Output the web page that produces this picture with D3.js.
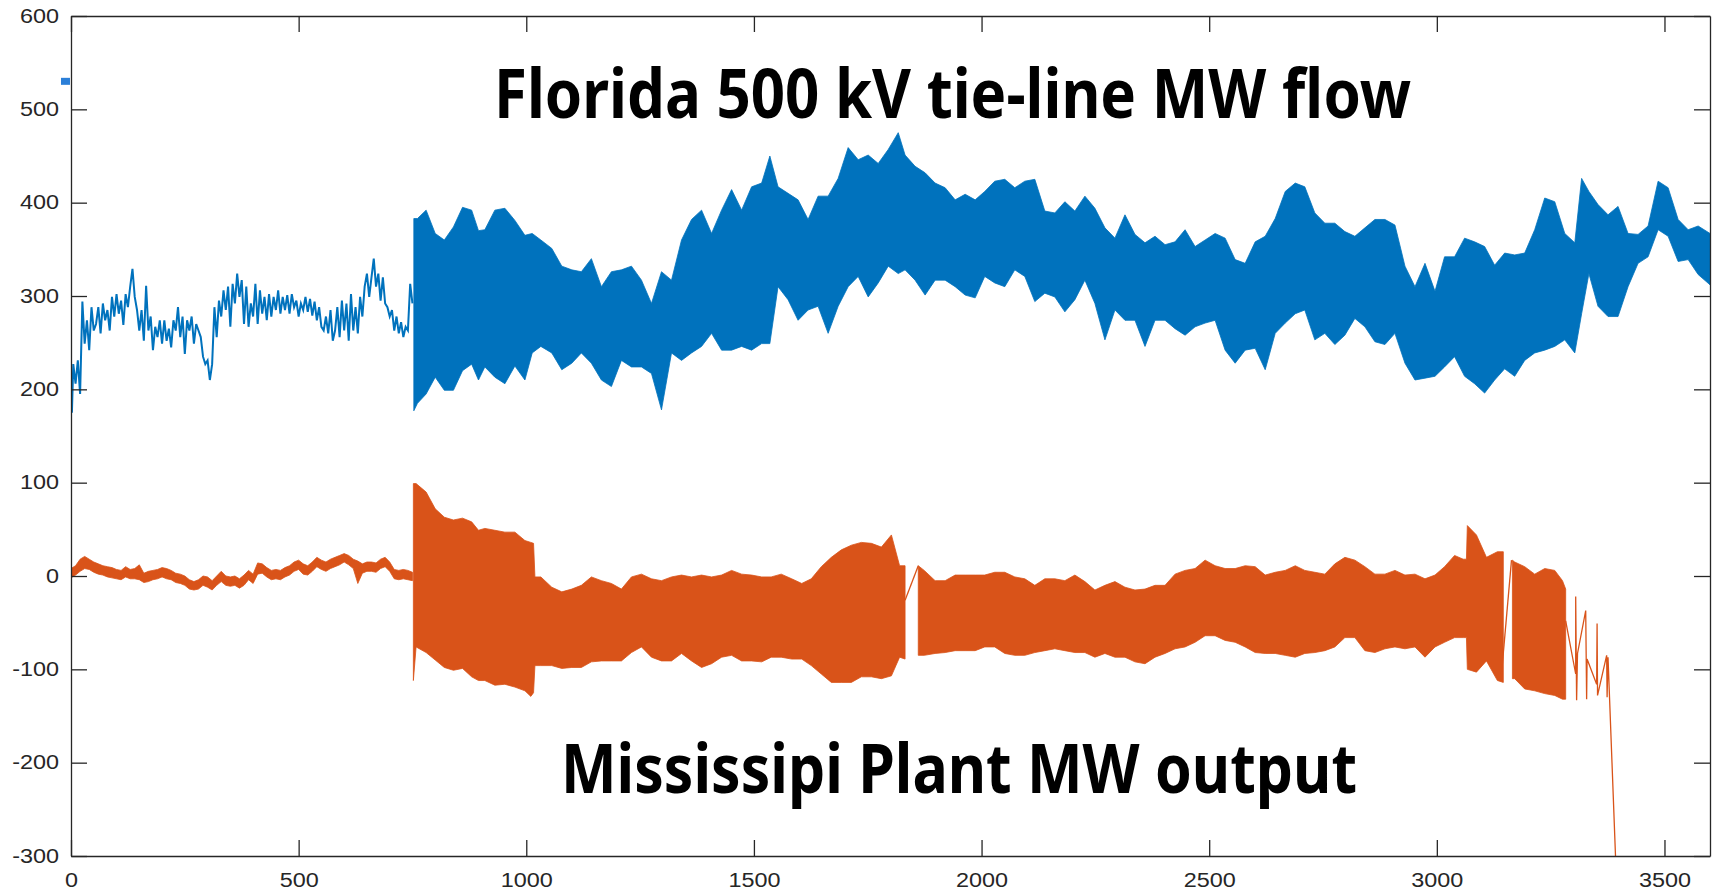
<!DOCTYPE html>
<html lang="en">
<head>
<meta charset="UTF-8">
<title>Florida 500 kV tie-line MW flow / Mississipi Plant MW output</title>
<script src="https://d3js.org/d3.v7.min.js"></script>
<style>
  body { margin: 0; background: #fff; }
  svg { display: block; }
  .axis path, .axis line { stroke: #262626; stroke-width: 1.3; }
  .axis text { font-family: "Liberation Sans", Arial, sans-serif; font-size: 19.5px; fill: #262626; }
  .label { font-family: "Noto Sans", sans-serif; font-weight: 700; font-size: 68px; fill: #000; }
</style>
</head>
<body>
<div id="chart"></div>
<script>
// axis ticks
const xTicks = [0, 500, 1000, 1500, 2000, 2500, 3000, 3500];
const yTicks = [-300, -200, -100, 0, 100, 200, 300, 400, 500, 600];

// Florida tie-line, quiet part before the oscillation starts: [time, MW]
const blueQuiet = [
  [0,215],[2,175],[5,227],[10,206],[15,231],[20,195],[25,294],[30,249],[35,274],[40,242],[45,288],[50,263],
  [55,270],[60,288],[65,260],[70,292],[75,274],[80,285],[85,263],[90,299],[95,278],[100,302],[105,281],
  [110,295],[115,269],[120,302],[125,288],[130,310],[135,329],[140,299],[145,285],[150,263],[155,285],
  [160,252],[165,311],[170,263],[175,278],[180,242],[185,267],[190,256],[195,274],[200,249],[205,274],
  [210,252],[215,265],[220,245],[225,274],[230,263],[235,288],[240,256],[245,278],[250,238],[255,274],
  [260,263],[265,278],[270,249],[275,270],[280,263],[285,256],[290,235],[295,227],[300,231],[305,210],
  [310,227],[315,288],[320,256],[325,295],[330,278],[335,306],[340,285],[345,310],[350,267],[355,313],
  [360,292],[365,324],[370,299],[375,317],[380,270],[385,310],[390,267],[395,292],[400,278],[405,313],
  [410,270],[415,306],[420,281],[425,299],[430,274],[435,302],[440,278],[445,299],[450,285],[455,306],
  [460,281],[465,299],[470,285],[475,301],[480,281],[485,302],[490,288],[495,295],[500,278],[505,292],
  [510,285],[515,299],[520,283],[525,297],[530,279],[535,294],[540,274],[545,288],[550,267],[555,263],
  [560,278],[565,260],[570,285],[575,252],[580,263],[585,288],[590,256],[595,295],[600,263],[605,292],
  [610,252],[615,302],[620,263],[625,288],[630,260],[635,299],[640,278],[645,310],[650,324],[655,299],
  [660,320],[665,340],[670,310],[675,324],[680,295],[685,320],[690,292],[695,288],[700,278],[705,285],
  [710,263],[715,278],[720,260],[725,272],[730,256],[735,267],[740,263],[745,313],[750,292]
];

// Florida tie-line, oscillating part: [time, min MW, max MW] per window
const blueBand = [
  [753,177,383],[761,185,383],[780,195,392],[800,213,367],[820,199,360],[840,199,374],[860,220,395],
  [880,227,392],[895,210,370],[909,224,371],[931,213,392],[953,206,394],[975,225,381],[997,210,365],
  [1013,239,367],[1032,246,360],[1056,239,351],[1078,221,332],[1100,228,328],[1121,239,326],[1143,228,340],
  [1165,210,310],[1187,203,326],[1209,231,328],[1231,224,332],[1253,224,317],[1275,217,292],[1297,178,326],
  [1319,239,317],[1341,231,360],[1363,239,382],[1385,246,392],[1407,260,367],[1429,242,392],[1451,242,414],
  [1473,246,392],[1495,242,417],[1517,249,421],[1535,249,450],[1553,310,417],[1575,296,410],[1597,274,403],
  [1619,285,382],[1641,289,407],[1663,260,407],[1685,289,426],[1707,310,459],[1729,321,446],[1751,299,451],
  [1773,314,442],[1795,332,457],[1817,324,475],[1832,328,451],[1854,317,439],[1876,301,432],[1898,317,421],
  [1920,317,416],[1942,310,403],[1964,301,409],[1986,298,403],[2007,321,412],[2029,314,423],[2051,310,425],
  [2073,328,416],[2095,321,423],[2117,294,425],[2139,303,391],[2161,299,389],[2183,283,401],[2205,296,391],
  [2227,317,407],[2249,292,394],[2271,253,373],[2293,285,362],[2315,274,387],[2337,274,366],[2359,246,357],
  [2381,274,364],[2403,274,355],[2425,265,358],[2447,258,371],[2469,267,353],[2491,271,360],[2513,274,367],
  [2535,242,362],[2557,228,339],[2579,242,335],[2601,244,358],[2623,221,364],[2645,260,383],[2667,271,412],
  [2689,281,421],[2710,285,417],[2732,253,389],[2754,260,378],[2776,248,378],[2798,258,369],[2820,276,364],
  [2842,267,373],[2864,251,382],[2886,248,382],[2908,260,376],[2930,228,332],[2952,210,310],[2974,212,335],
  [2996,214,305],[3017,224,342],[3039,235,342],[3061,214,362],[3083,206,358],[3105,196,353],[3127,210,333],
  [3149,222,346],[3171,214,344],[3193,231,346],[3215,239,371],[3237,242,405],[3259,246,401],[3281,253,367],
  [3303,239,357],[3318,281,426],[3334,324,412],[3354,289,398],[3376,278,387],[3398,278,396],[3420,310,367],
  [3442,335,366],[3464,342,375],[3486,371,423],[3508,364,416],[3530,337,382],[3552,339,371],[3574,323,375],
  [3600,312,367]
];

// Mississipi plant, quiet part: [time, min MW, max MW]
const orangeQuiet = [
  [0,-2,8],[10,1,11],[20,5,18],[30,8,21],[40,7,18],[50,4,15],[60,2,13],[70,1,11],[80,-1,10],[90,-2,9],
  [100,-3,7],[110,-4,6],[120,-1,10],[130,-3,7],[140,-3,8],[150,-4,12],[160,-7,3],[170,-6,5],[180,-4,6],
  [190,-3,7],[200,-1,9],[210,-3,8],[220,-4,6],[230,-7,3],[240,-8,2],[250,-10,0],[260,-14,-4],[270,-15,-6],
  [280,-14,-4],[290,-10,0],[300,-12,-1],[310,-15,-5],[320,-10,0],[330,-6,5],[340,-10,0],[350,-11,-1],
  [360,-10,0],[370,-13,-3],[380,-10,1],[390,-4,6],[400,-8,2],[410,2,14],[420,3,13],[430,-1,9],[440,-4,6],
  [450,-3,7],[460,-4,6],[470,-1,9],[480,1,11],[490,5,15],[500,7,17],[510,2,13],[520,1,11],[530,5,15],
  [540,10,20],[550,7,17],[560,5,15],[570,8,18],[580,10,20],[590,12,22],[600,15,24],[610,12,22],[620,8,18],
  [630,-8,16],[640,3,13],[650,5,15],[660,5,15],[670,4,14],[680,8,18],[690,10,20],[700,5,15],[710,-3,7],
  [720,-4,6],[730,-3,7],[740,-4,6],[750,-5,4]
];

// Mississipi plant, oscillating blocks: [time, min MW, max MW]
const orangeBlockA = [
  [752,-112,99],[758,-76,99],[780,-82,90],[800,-90,72],[820,-98,63],[840,-101,60],[860,-99,62],[880,-108,58],
  [895,-112,49],[909,-112,51],[931,-117,49],[953,-116,47],[975,-119,47],[997,-123,38],[1010,-129,36],
  [1016,-125,35],[1019,-96,-1],[1032,-96,-1],[1056,-96,-12],[1078,-99,-17],[1100,-98,-14],[1121,-98,-10],
  [1143,-92,-1],[1165,-91,-5],[1187,-91,-8],[1209,-91,-14],[1231,-82,-1],[1253,-76,2],[1275,-87,-3],
  [1297,-91,-5],[1319,-91,-1],[1341,-83,1],[1363,-91,-1],[1385,-98,1],[1407,-94,-1],[1429,-87,1],
  [1451,-85,6],[1473,-91,2],[1495,-91,1],[1517,-92,-1],[1538,-87,-1],[1560,-87,2],[1583,-89,-3],
  [1605,-89,-8],[1626,-96,-3],[1648,-105,10],[1670,-114,20],[1692,-114,28],[1714,-114,33],[1736,-108,36],
  [1758,-108,35],[1780,-110,31],[1802,-107,44],[1820,-87,11],[1832,-89,11]
];
const orangeBlockB = [
  [1861,-85,11],[1874,-85,6],[1898,-83,-5],[1920,-82,-5],[1942,-80,1],[1964,-80,1],[1986,-80,1],[2007,-76,1],
  [2029,-76,4],[2051,-83,4],[2073,-85,-1],[2095,-85,-3],[2117,-82,-10],[2139,-80,-3],[2161,-78,-3],
  [2183,-80,-5],[2205,-82,1],[2227,-82,-6],[2249,-87,-15],[2271,-83,-10],[2293,-87,-6],[2315,-87,-12],
  [2337,-92,-15],[2359,-94,-14],[2381,-87,-10],[2403,-83,-10],[2425,-78,2],[2447,-76,6],[2469,-71,8],
  [2491,-64,17],[2513,-64,11],[2535,-69,8],[2557,-71,8],[2579,-76,11],[2601,-82,10],[2623,-83,1],
  [2645,-83,4],[2667,-85,6],[2689,-87,11],[2710,-83,6],[2732,-82,4],[2754,-80,2],[2776,-76,13],
  [2798,-66,20],[2820,-66,17],[2842,-80,10],[2864,-82,2],[2886,-78,2],[2908,-76,6],[2930,-78,1],
  [2952,-76,2],[2974,-87,-3],[2996,-76,1],[3017,-71,10],[3039,-66,22],[3058,-66,18],[3065,-66,18],
  [3067,-100,54],[3087,-103,44],[3109,-91,20],[3133,-112,26],[3146,-114,26]
];
const orangeBlockC = [
  [3166,-110,17],[3171,-110,15],[3193,-121,10],[3215,-123,2],[3237,-126,8],[3259,-128,6],[3276,-132,-5],
  [3283,-132,-14]
];

// Mississipi plant, single samples between and after the blocks: [time, MW]
const orangeJumpA = [[1832,-26],[1861,11]];
const orangeJumpB = [[3142,-105],[3164,17]];
const orangeTail = [
  [3283,-48],[3305,-105],[3305,-22],[3307,-133],[3309,-83],[3327,-37],[3329,-132],[3330,-89],[3351,-116],
  [3352,-51],[3353,-128],[3373,-85],[3374,-130],[3376,-87],[3394,-320]
];

// stray legend swatch left of the axes
const strayMark = [-22, 530];

const titleTop = "Florida 500 kV tie-line MW flow";
const titleBottom = "Mississipi Plant MW output";

const blue = "#0072BD";
const orange = "#D95319";

const width = 1715, height = 890;
const margin = {top: 16, right: 5, bottom: 34, left: 71};
const innerW = width - margin.left - margin.right;
const innerH = height - margin.top - margin.bottom;

const svg = d3.select("#chart").append("svg")
  .attr("width", width)
  .attr("height", height);

const g = svg.append("g").attr("transform", `translate(${margin.left},${margin.top})`);

const x = d3.scaleLinear().domain([0, 3600]).range([0, innerW]);
const y = d3.scaleLinear().domain([-300, 600]).range([innerH, 0]);

g.append("clipPath").attr("id", "plot-clip")
  .append("rect").attr("width", innerW).attr("height", innerH);

const plot = g.append("g").attr("clip-path", "url(#plot-clip)");

const band = d3.area()
  .x(d => x(d[0]))
  .y0(d => y(d[1]))
  .y1(d => y(d[2]));

const line = d3.line()
  .x(d => x(d[0]))
  .y(d => y(d[1]));

// blue series
plot.append("path").datum(blueBand)
  .attr("d", band).attr("fill", blue).attr("stroke", blue).attr("stroke-width", 0.8);
plot.append("path").datum(blueQuiet)
  .attr("d", line).attr("fill", "none").attr("stroke", blue).attr("stroke-width", 2);

// orange series
[orangeQuiet, orangeBlockA, orangeBlockB, orangeBlockC].forEach(seg => {
  plot.append("path").datum(seg)
    .attr("d", band).attr("fill", orange).attr("stroke", orange).attr("stroke-width", 0.8);
});
[orangeJumpA, orangeJumpB, orangeTail].forEach(seg => {
  plot.append("path").datum(seg)
    .attr("d", line).attr("fill", "none").attr("stroke", orange).attr("stroke-width", 1.3);
});

// axes, boxed, ticks pointing inward; plain hyphen minus like the original
const plain = d => String(d);
const stretch = "scale(1.2,1)";

g.append("g").attr("class", "axis")
  .attr("transform", `translate(0,${innerH})`)
  .call(d3.axisBottom(x).tickValues(xTicks).tickFormat(plain).tickSizeInner(-16).tickSizeOuter(0).tickPadding(17))
  .selectAll("text").attr("transform", stretch);

g.append("g").attr("class", "axis")
  .call(d3.axisTop(x).tickValues(xTicks).tickSizeInner(-16).tickSizeOuter(0).tickFormat(""));

g.append("g").attr("class", "axis")
  .call(d3.axisLeft(y).tickValues(yTicks).tickFormat(plain).tickSizeInner(-16).tickSizeOuter(0).tickPadding(10))
  .selectAll("text").attr("transform", stretch);

g.append("g").attr("class", "axis")
  .attr("transform", `translate(${innerW},0)`)
  .call(d3.axisRight(y).tickValues(yTicks).tickSizeInner(-16).tickSizeOuter(0).tickFormat(""));

// stray swatch
g.append("rect")
  .attr("x", x(strayMark[0]))
  .attr("y", y(strayMark[1]) - 3.5)
  .attr("width", 9)
  .attr("height", 7)
  .attr("fill", "#2b7fd8");

// in-plot labels
g.append("text").attr("class", "label")
  .attr("x", 423).attr("y", 102)
  .attr("textLength", 917).attr("lengthAdjust", "spacingAndGlyphs")
  .text(titleTop);

g.append("text").attr("class", "label")
  .attr("x", 490).attr("y", 777)
  .attr("textLength", 796).attr("lengthAdjust", "spacingAndGlyphs")
  .text(titleBottom);
</script>
</body>
</html>
